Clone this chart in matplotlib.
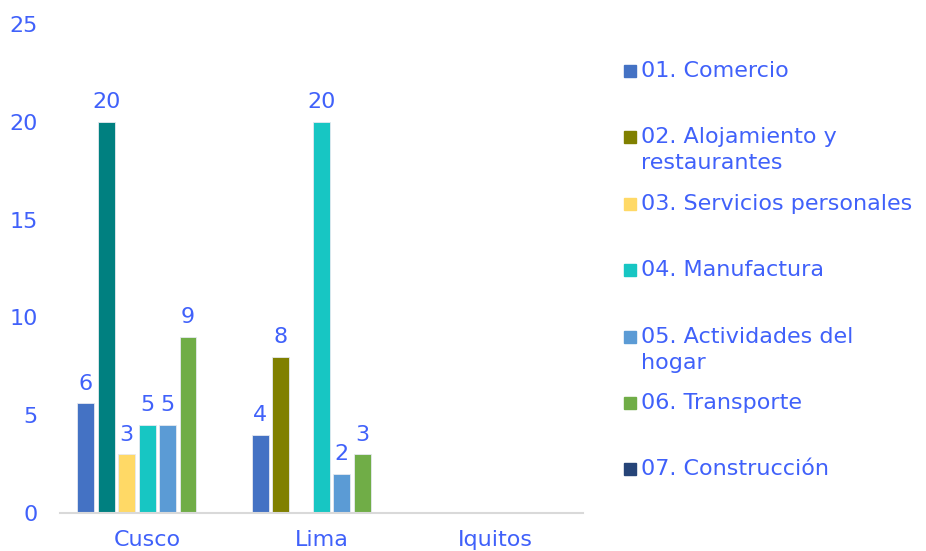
import numpy as np
import matplotlib.pyplot as plt
from matplotlib.patches import Rectangle

# data
cities = ['Cusco', 'Lima', 'Iquitos']
sectors = ['01. Comercio', '02. Alojamiento y\nrestaurantes', '03. Servicios personales',
           '04. Manufactura', '05. Actividades del\nhogar', '06. Transporte', '07. Construcción']
comercio = [5.6, 4.0, np.nan]
alojamiento = [20.0, 8.0, np.nan]
servicios = [3.0, np.nan, np.nan]
manufactura = [4.5, 20.0, np.nan]
hogar = [4.5, 2.0, np.nan]
transporte = [9.0, 3.0, np.nan]
construccion = [np.nan, np.nan, np.nan]
series = [comercio, alojamiento, servicios, manufactura, hogar, transporte, construccion]

colors = ['#4472C4', '#808000', '#FFD966', '#17C6C3', '#5B9BD5', '#70AD47', '#264478']
# Cusco's alojamiento bar has its own colour in the original
point_colors = {(1, 0): '#008080'}

txt = '#4061FA'
fs = 16
plt.rcParams['font.family'] = 'DejaVu Sans'

fig = plt.figure(figsize=(9.26, 5.51), dpi=100)
ax = fig.add_axes([60/926, 38/551, 523/926, 489/551])

x = np.arange(len(cities))
n = len(series)
slot = 0.82/n
barw = slot*0.83
for i, vals in enumerate(series):
    pos = x - 0.41 + slot*(i + 0.5)
    cols = [point_colors.get((i, j), colors[i]) for j in range(len(cities))]
    bars = ax.bar(pos, vals, width=barw, color=cols, edgecolor='#E6E9F0', linewidth=0.6, zorder=2)
    for b, v in zip(bars, vals):
        if np.isnan(v):
            continue
        # Excel rounds halves up
        lab = str(int(np.floor(v + 0.5)))
        ax.annotate(lab, (b.get_x() + b.get_width()/2, v),
                    xytext=(0, 7), textcoords='offset points', ha='center', va='bottom',
                    color=txt, fontsize=fs)

ax.set_xlim(-0.5, 2.5)
ax.set_ylim(0, 25)
ax.set_yticks([0, 5, 10, 15, 20, 25])
ax.set_xticks(x)
ax.set_xticklabels(cities)
ax.tick_params(axis='both', length=0, labelsize=fs, labelcolor=txt)
ax.tick_params(axis='y', pad=16)
ax.tick_params(axis='x', pad=12)
for s in ['top', 'right', 'left']:
    ax.spines[s].set_visible(False)
ax.spines['bottom'].set_color('#D9D9D9')
ax.spines['bottom'].set_linewidth(1.5)

# legend, laid out like the original (marker at first line)
leg_y = [71, 137, 204, 270, 337, 403, 469]
for lab, col, yy in zip(sectors, colors, leg_y):
    fig.patches.append(Rectangle((624/926, 1 - (yy + 6)/551), 12/926, 12/551,
                                 transform=fig.transFigure, color=col))
    fig.text(641/926, 1 - (yy - 10)/551, lab, color=txt, fontsize=fs, va='top',
             ha='left', linespacing=1.35)

fig.savefig('out.png', dpi=100)
